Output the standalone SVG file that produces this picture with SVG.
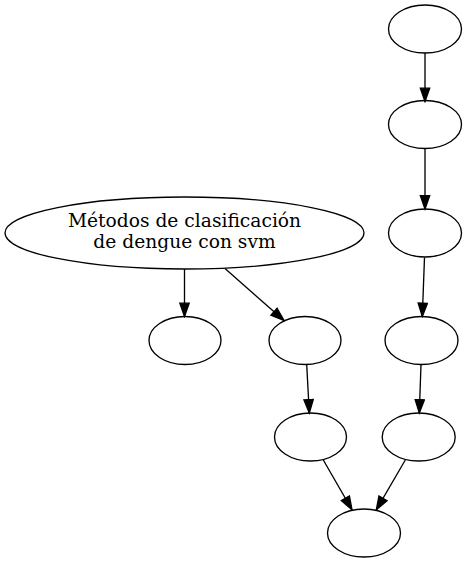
<svg xmlns="http://www.w3.org/2000/svg" width="467" height="562" viewBox="0 0 467 562">
<defs>
<style>
.n ellipse{fill:none;stroke:#000;stroke-width:1.33}
.e path{fill:none;stroke:#000;stroke-width:1.33}
text{font-family:"DejaVu Serif",serif;font-size:18.67px;fill:#000;text-anchor:middle}
</style>
<marker id="ah" markerUnits="userSpaceOnUse" markerWidth="16" markerHeight="12" refX="13.3" refY="4.67" orient="auto" viewBox="-1 -1 16 12">
<path d="M0,0 L13.3,4.67 L0,9.33 Z" fill="#000" stroke="#000" stroke-width="1.33"/>
</marker>
</defs>
<rect width="467" height="562" fill="#fff"/>
<g id="edges" class="e">
<path d="M184.5,269 L184.5,316.5" marker-end="url(#ah)"/>
<path d="M225,268.5 L284,320.5" marker-end="url(#ah)"/>
<path d="M425,53 L425,101.5" marker-end="url(#ah)"/>
<path d="M425,148 L425,209" marker-end="url(#ah)"/>
<path d="M424.5,257.5 L422.3,316.5" marker-end="url(#ah)"/>
<path d="M306.7,364.5 L309.3,413" marker-end="url(#ah)"/>
<path d="M421,364.5 L419.3,413" marker-end="url(#ah)"/>
<path d="M323.3,460 L352,509.8" marker-end="url(#ah)"/>
<path d="M405.3,460 L376.3,509.8" marker-end="url(#ah)"/>
</g>
<g id="main" class="n">
<ellipse cx="184.5" cy="233" rx="179.5" ry="36"/>
<text x="184.5" y="227">Métodos de clasificación</text>
<text x="184.5" y="248">de dengue con svm</text>
</g>
<g id="n1" class="n"><ellipse cx="425" cy="29" rx="36.5" ry="24"/></g>
<g id="n2" class="n"><ellipse cx="425" cy="124.5" rx="36.5" ry="24"/></g>
<g id="n3" class="n"><ellipse cx="425" cy="233" rx="36.5" ry="24"/></g>
<g id="n4" class="n"><ellipse cx="421.5" cy="340.5" rx="36.5" ry="24"/></g>
<g id="n5" class="n"><ellipse cx="185" cy="340.5" rx="36" ry="24"/></g>
<g id="n6" class="n"><ellipse cx="305" cy="340.5" rx="36" ry="24"/></g>
<g id="n7" class="n"><ellipse cx="310.5" cy="437" rx="36" ry="24"/></g>
<g id="n8" class="n"><ellipse cx="418.7" cy="437" rx="36.5" ry="24"/></g>
<g id="n9" class="n"><ellipse cx="364" cy="533" rx="36.5" ry="24"/></g>
</svg>
